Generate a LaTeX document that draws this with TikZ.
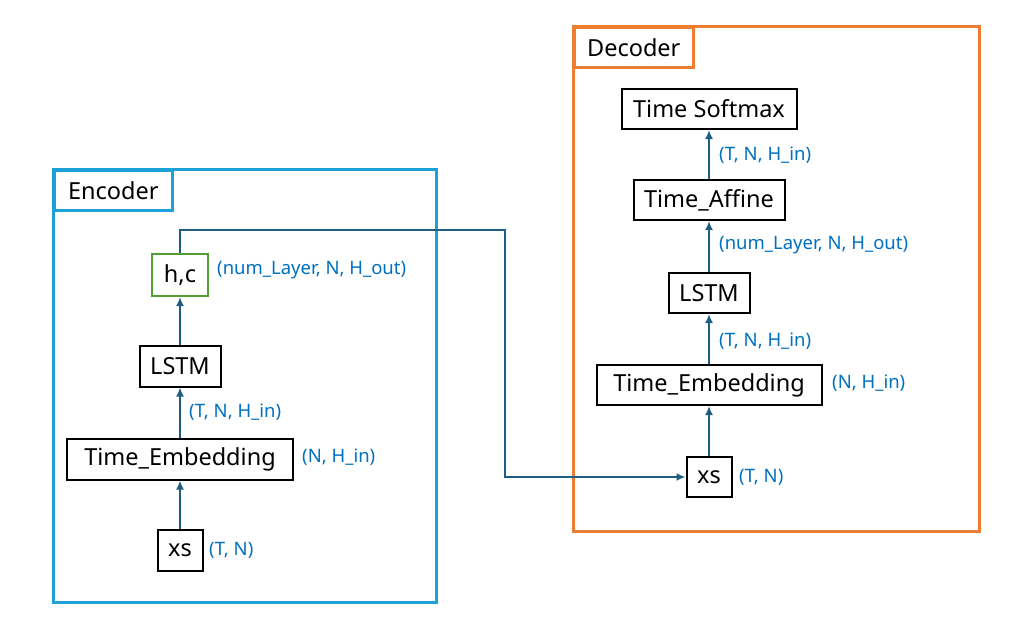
\documentclass[tikz,border=0pt]{standalone}
\usepackage{fontspec}
\setmainfont{Noto Sans}
\usetikzlibrary{arrows.meta}
\definecolor{encblue}{RGB}{27,160,216}
\definecolor{decorange}{RGB}{237,125,49}
\definecolor{hcgreen}{RGB}{80,160,50}
\definecolor{flowblue}{RGB}{31,94,128}
\definecolor{labelblue}{RGB}{0,112,192}

\begin{document}
\begin{tikzpicture}[x=1pt,y=-1pt,
        layer/.style={draw=black,line width=2pt,minimum height=40pt,inner sep=0pt,font=\fontsize{23.5}{26}\selectfont},
        dimlabel/.style={text=labelblue,anchor=west,inner sep=0pt,font=\fontsize{18.5}{22}\selectfont},
        frametab/.style={line width=2.5pt,anchor=north west,minimum height=40pt,inner sep=0pt,font=\fontsize{23.5}{26}\selectfont},
        flow/.style={draw=flowblue,line width=2pt,-{Latex[length=9pt,width=8pt]}}]
        \useasboundingbox (0,0) rectangle (1020,638);

        \draw[encblue,line width=3pt] (53,169) rectangle (436,602);
        \node[frametab,draw=encblue,minimum width=118pt] (enctab) at (53,169) {Encoder};
        \draw[decorange,line width=3pt] (573,26) rectangle (979,531);
        \node[frametab,draw=decorange,minimum width=119pt] (dectab) at (573,26) {Decoder};

        \node[layer,minimum width=45pt,minimum height=41pt] (exs) at (180,550) {xs};
        \node[layer,minimum width=226pt,minimum height=41pt] (eemb) at (180,459) {Time\_Embedding};
        \node[layer,minimum width=81pt,minimum height=41pt] (elstm) at (180,366) {LSTM};
        \node[layer,minimum width=56pt,minimum height=42pt,draw=hcgreen] (ehc) at (180,275) {h,c};
        \node[dimlabel] (exsdim) at (209,550) {(T, N)};
        \node[dimlabel] (eembdim) at (302,457) {(N, H\_in)};
        \node[dimlabel] (elstmdim) at (189,412) {(T, N, H\_in)};
        \node[dimlabel] (ehcdim) at (217,270) {(num\_Layer, N, H\_out)};

        \node[layer,minimum width=45pt] (dxs) at (709,477) {xs};
        \node[layer,minimum width=225pt] (demb) at (709,385) {Time\_Embedding};
        \node[layer,minimum width=81pt] (dlstm) at (709,293) {LSTM};
        \node[layer,minimum width=151pt] (daff) at (709,200) {Time\_Affine};
        \node[layer,minimum width=175pt] (dsoft) at (709,109) {Time Softmax};
        \node[dimlabel] (dxsdim) at (739,477) {(T, N)};
        \node[dimlabel] (dembdim) at (832,383) {(N, H\_in)};
        \node[dimlabel] (dlstmdim) at (719,341) {(T, N, H\_in)};
        \node[dimlabel] (daffdim) at (719,245) {(num\_Layer, N, H\_out)};
        \node[dimlabel] (dsoftdim) at (719,155) {(T, N, H\_in)};

        \draw[flow] (exs) -- (eemb);
        \draw[flow] (eemb) -- (elstm);
        \draw[flow] (elstm) -- (ehc);
        \draw[flow] (dxs) -- (demb);
        \draw[flow] (demb) -- (dlstm);
        \draw[flow] (dlstm) -- (daff);
        \draw[flow] (daff) -- (dsoft);

        \coordinate (bend) at (505,230);
        \draw[flow] (ehc.north) |- (bend) |- (dxs.west);
\end{tikzpicture}
\end{document}
